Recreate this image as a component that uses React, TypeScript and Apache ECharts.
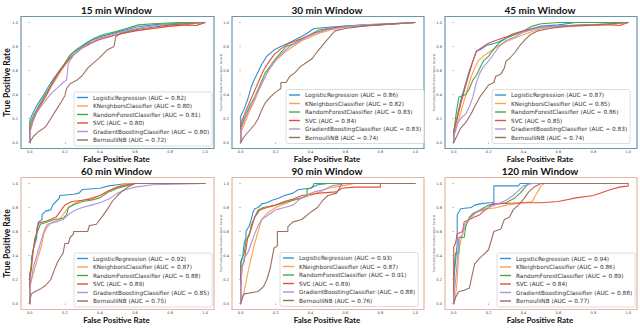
import React, { useEffect, useRef } from 'react';
import * as echarts from 'echarts';

const CLASSIFIERS = ['LogisticRegression', 'KNeighborsClassifier', 'RandomForestClassifier', 'SVC', 'GradientBoostingClassifier', 'BernoulliNB'];
const COLORS = ['#3490d0', '#ffa04a', '#45a845', '#e4503f', '#ad94dc', '#9d6f60'];
const WINDOWS = ['15 min Window', '30 min Window', '45 min Window', '60 min Window', '90 min Window', '120 min Window'];
const TICKS = [0, 0.2, 0.4, 0.6, 0.8, 1.0];

const auc15 = [0.82, 0.80, 0.81, 0.80, 0.80, 0.72];
const auc30 = [0.86, 0.82, 0.83, 0.84, 0.83, 0.74];
const auc45 = [0.87, 0.85, 0.86, 0.85, 0.83, 0.74];
const auc60 = [0.92, 0.87, 0.88, 0.89, 0.85, 0.75];
const auc90 = [0.93, 0.87, 0.91, 0.89, 0.88, 0.76];
const auc120 = [0.94, 0.86, 0.89, 0.84, 0.88, 0.77];

// ROC curves: [FPR, TPR]
const lr15 = [[0,0],[0,0.18],[0.01,0.22],[0.03,0.28],[0.05,0.33],[0.08,0.4],[0.1,0.45],[0.13,0.52],[0.16,0.58],[0.19,0.64],[0.22,0.7],[0.25,0.75],[0.3,0.8],[0.35,0.85],[0.4,0.88],[0.45,0.9],[0.5,0.92],[0.6,0.96],[0.7,0.98],[0.8,0.99],[0.9,0.995],[1,1]];
const kn15 = [[0,0],[0,0.12],[0.02,0.2],[0.04,0.26],[0.06,0.32],[0.09,0.38],[0.12,0.46],[0.15,0.53],[0.18,0.6],[0.21,0.66],[0.24,0.72],[0.28,0.77],[0.33,0.81],[0.38,0.85],[0.45,0.88],[0.5,0.9],[0.6,0.93],[0.7,0.95],[0.8,0.97],[0.9,0.98],[0.95,0.975],[1,1]];
const rf15 = [[0,0],[0,0.15],[0.02,0.22],[0.05,0.3],[0.08,0.38],[0.11,0.45],[0.14,0.52],[0.17,0.6],[0.2,0.66],[0.23,0.73],[0.27,0.78],[0.32,0.83],[0.37,0.87],[0.42,0.9],[0.48,0.92],[0.55,0.95],[0.62,0.98],[0.7,0.99],[0.85,1],[1,1]];
const svc15 = [[0,0],[0,0.1],[0.02,0.19],[0.04,0.26],[0.07,0.33],[0.1,0.41],[0.13,0.5],[0.16,0.57],[0.19,0.63],[0.22,0.69],[0.26,0.74],[0.3,0.79],[0.35,0.83],[0.4,0.86],[0.5,0.9],[0.6,0.93],[0.7,0.95],[0.8,0.97],[0.9,0.98],[0.95,0.975],[1,1]];
const gb15 = [[0,0],[0,0.08],[0.02,0.18],[0.04,0.25],[0.07,0.31],[0.1,0.37],[0.13,0.42],[0.16,0.46],[0.19,0.5],[0.21,0.52],[0.22,0.66],[0.25,0.73],[0.29,0.78],[0.34,0.83],[0.4,0.87],[0.47,0.9],[0.55,0.93],[0.65,0.96],[0.75,0.98],[0.88,0.99],[1,1]];
const nb15 = [[0,0],[0.02,0.05],[0.05,0.09],[0.09,0.13],[0.12,0.2],[0.15,0.27],[0.18,0.34],[0.2,0.39],[0.21,0.45],[0.23,0.49],[0.27,0.52],[0.3,0.56],[0.33,0.62],[0.36,0.66],[0.4,0.71],[0.44,0.77],[0.48,0.8],[0.49,0.88],[0.52,0.91],[0.6,0.94],[0.7,0.96],[0.8,0.98],[0.9,0.99],[1,1]];

const lr30 = [[0,0],[0,0.22],[0.02,0.28],[0.04,0.36],[0.06,0.46],[0.07,0.5],[0.09,0.56],[0.12,0.65],[0.15,0.72],[0.19,0.77],[0.23,0.8],[0.29,0.84],[0.33,0.87],[0.37,0.9],[0.42,0.95],[0.5,0.96],[0.6,0.97],[0.7,0.98],[0.85,0.99],[1,1]];
const kn30 = [[0,0],[0,0.08],[0.02,0.15],[0.05,0.26],[0.08,0.35],[0.1,0.42],[0.13,0.52],[0.16,0.6],[0.2,0.68],[0.25,0.75],[0.3,0.8],[0.35,0.85],[0.4,0.88],[0.45,0.91],[0.52,0.94],[0.6,0.96],[0.7,0.97],[0.8,0.98],[0.9,0.99],[1,1]];
const rf30 = [[0,0],[0,0.12],[0.02,0.2],[0.05,0.3],[0.08,0.38],[0.11,0.48],[0.14,0.58],[0.17,0.64],[0.2,0.7],[0.23,0.75],[0.26,0.8],[0.3,0.82],[0.35,0.86],[0.4,0.9],[0.45,0.94],[0.5,0.95],[0.6,0.97],[0.75,0.98],[0.9,0.99],[1,1]];
const svc30 = [[0,0],[0,0.15],[0.02,0.23],[0.04,0.3],[0.07,0.4],[0.1,0.5],[0.13,0.6],[0.16,0.67],[0.19,0.73],[0.23,0.78],[0.27,0.82],[0.32,0.85],[0.37,0.88],[0.42,0.91],[0.48,0.94],[0.55,0.96],[0.65,0.97],[0.8,0.98],[0.9,0.99],[1,1]];
const gb30 = [[0,0],[0,0.1],[0.02,0.18],[0.05,0.28],[0.08,0.37],[0.11,0.46],[0.14,0.55],[0.17,0.63],[0.2,0.69],[0.24,0.75],[0.28,0.8],[0.33,0.84],[0.38,0.88],[0.43,0.91],[0.5,0.94],[0.58,0.96],[0.7,0.98],[0.85,0.99],[1,1]];
const nb30 = [[0,0],[0.02,0.05],[0.05,0.1],[0.08,0.15],[0.1,0.2],[0.12,0.27],[0.14,0.33],[0.17,0.38],[0.2,0.42],[0.23,0.45],[0.23,0.5],[0.26,0.5],[0.28,0.55],[0.31,0.58],[0.34,0.63],[0.37,0.66],[0.41,0.7],[0.44,0.76],[0.48,0.83],[0.51,0.88],[0.54,0.93],[0.6,0.95],[0.7,0.97],[0.85,0.99],[1,1]];

const lr45 = [[0,0],[0,0.1],[0.02,0.22],[0.04,0.35],[0.07,0.5],[0.09,0.6],[0.11,0.68],[0.13,0.76],[0.16,0.78],[0.19,0.81],[0.22,0.82],[0.26,0.84],[0.3,0.87],[0.35,0.9],[0.4,0.93],[0.45,0.95],[0.5,0.97],[0.6,0.98],[0.7,1],[1,1]];
const kn45 = [[0,0],[0,0.05],[0.02,0.15],[0.04,0.25],[0.06,0.35],[0.08,0.45],[0.1,0.55],[0.12,0.62],[0.14,0.68],[0.17,0.72],[0.2,0.75],[0.25,0.8],[0.3,0.84],[0.35,0.87],[0.4,0.9],[0.5,0.95],[0.6,0.96],[0.7,0.97],[0.85,0.98],[0.95,0.99],[1,1]];
const rf45 = [[0,0],[0,0.05],[0.01,0.2],[0.02,0.3],[0.03,0.38],[0.07,0.4],[0.09,0.45],[0.11,0.52],[0.13,0.56],[0.15,0.62],[0.17,0.68],[0.2,0.72],[0.23,0.78],[0.26,0.83],[0.3,0.87],[0.35,0.9],[0.4,0.93],[0.45,0.97],[0.5,0.99],[0.6,1],[1,1]];
const svc45 = [[0,0],[0,0.08],[0.02,0.2],[0.04,0.32],[0.07,0.48],[0.09,0.58],[0.11,0.68],[0.13,0.76],[0.16,0.79],[0.19,0.82],[0.22,0.84],[0.26,0.86],[0.3,0.88],[0.35,0.91],[0.4,0.93],[0.5,0.96],[0.6,0.97],[0.75,0.98],[0.9,0.98],[0.95,0.975],[1,1]];
const gb45 = [[0,0],[0,0.05],[0.02,0.15],[0.04,0.2],[0.07,0.24],[0.09,0.3],[0.11,0.38],[0.13,0.5],[0.15,0.58],[0.17,0.63],[0.2,0.68],[0.23,0.74],[0.26,0.8],[0.3,0.85],[0.35,0.88],[0.4,0.92],[0.5,0.96],[0.6,0.97],[0.75,0.98],[0.9,0.99],[1,1]];
const nb45 = [[0,0],[0.02,0.06],[0.04,0.12],[0.07,0.17],[0.1,0.24],[0.12,0.3],[0.15,0.38],[0.18,0.44],[0.2,0.48],[0.23,0.5],[0.24,0.55],[0.27,0.57],[0.29,0.62],[0.3,0.68],[0.32,0.7],[0.35,0.75],[0.38,0.81],[0.41,0.86],[0.44,0.9],[0.48,0.93],[0.55,0.95],[0.65,0.97],[0.8,0.98],[1,1]];

const lr60 = [[0,0],[0,0.25],[0.01,0.3],[0.01,0.38],[0.02,0.45],[0.03,0.5],[0.04,0.55],[0.04,0.62],[0.05,0.68],[0.07,0.7],[0.07,0.74],[0.09,0.77],[0.12,0.78],[0.13,0.82],[0.15,0.85],[0.17,0.88],[0.17,0.9],[0.25,0.91],[0.28,0.92],[0.3,0.95],[0.4,0.96],[0.45,0.98],[0.5,0.99],[0.55,1],[1,1]];
const kn60 = [[0,0],[0,0.15],[0.01,0.2],[0.03,0.3],[0.05,0.4],[0.07,0.5],[0.08,0.58],[0.1,0.64],[0.13,0.68],[0.17,0.7],[0.2,0.76],[0.22,0.8],[0.26,0.84],[0.3,0.86],[0.35,0.88],[0.4,0.9],[0.45,0.94],[0.5,0.97],[0.55,1],[1,1]];
const rf60 = [[0,0],[0,0.22],[0.01,0.35],[0.02,0.45],[0.03,0.55],[0.05,0.62],[0.06,0.66],[0.1,0.68],[0.14,0.7],[0.19,0.71],[0.21,0.74],[0.22,0.8],[0.26,0.83],[0.3,0.85],[0.35,0.86],[0.4,0.88],[0.45,0.93],[0.5,0.96],[0.55,0.98],[0.6,1],[1,1]];
const svc60 = [[0,0],[0,0.2],[0.01,0.3],[0.02,0.45],[0.03,0.52],[0.05,0.67],[0.1,0.69],[0.15,0.72],[0.18,0.78],[0.2,0.82],[0.24,0.85],[0.3,0.86],[0.35,0.87],[0.4,0.9],[0.45,0.94],[0.5,0.97],[0.55,0.99],[0.6,1],[1,1]];
const gb60 = [[0,0],[0,0.12],[0.01,0.2],[0.02,0.3],[0.04,0.4],[0.06,0.5],[0.08,0.6],[0.1,0.66],[0.15,0.68],[0.19,0.7],[0.22,0.74],[0.26,0.78],[0.3,0.8],[0.35,0.82],[0.4,0.84],[0.45,0.87],[0.5,0.92],[0.55,0.95],[0.6,0.97],[0.7,0.99],[1,1]];
const nb60 = [[0,0],[0,0.03],[0.01,0.08],[0.03,0.1],[0.06,0.12],[0.09,0.15],[0.12,0.2],[0.14,0.28],[0.16,0.35],[0.19,0.42],[0.2,0.5],[0.22,0.5],[0.23,0.55],[0.25,0.58],[0.25,0.6],[0.33,0.6],[0.34,0.65],[0.38,0.66],[0.41,0.72],[0.44,0.78],[0.47,0.85],[0.5,0.9],[0.53,0.94],[0.57,0.98],[0.6,1],[1,1]];

const lr90 = [[0,0],[0,0.33],[0.01,0.38],[0.02,0.5],[0.03,0.55],[0.03,0.6],[0.05,0.65],[0.06,0.7],[0.07,0.76],[0.08,0.79],[0.1,0.8],[0.12,0.83],[0.15,0.84],[0.18,0.86],[0.22,0.88],[0.25,0.9],[0.3,0.92],[0.33,0.95],[0.4,0.96],[0.44,0.99],[0.5,1],[1,1]];
const kn90 = [[0,0],[0,0.02],[0.02,0.1],[0.04,0.25],[0.06,0.38],[0.08,0.5],[0.1,0.6],[0.12,0.7],[0.15,0.75],[0.2,0.8],[0.25,0.83],[0.3,0.86],[0.35,0.88],[0.4,0.9],[0.45,0.93],[0.5,0.96],[0.58,0.98],[0.65,1],[1,1]];
const rf90 = [[0,0],[0,0.35],[0.02,0.42],[0.03,0.52],[0.05,0.57],[0.06,0.65],[0.08,0.72],[0.1,0.78],[0.13,0.8],[0.2,0.82],[0.25,0.84],[0.3,0.86],[0.35,0.88],[0.38,0.9],[0.38,0.95],[0.41,0.97],[0.42,1],[1,1]];
const svc90 = [[0,0],[0,0.3],[0.02,0.35],[0.03,0.45],[0.04,0.55],[0.06,0.62],[0.08,0.72],[0.11,0.78],[0.15,0.8],[0.2,0.82],[0.25,0.85],[0.3,0.87],[0.35,0.9],[0.45,0.92],[0.55,0.93],[0.58,0.96],[0.65,0.97],[0.8,0.97],[0.8,1],[1,1]];
const gb90 = [[0,0],[0,0.15],[0.01,0.3],[0.02,0.38],[0.04,0.42],[0.06,0.5],[0.08,0.58],[0.1,0.65],[0.12,0.7],[0.16,0.74],[0.2,0.78],[0.25,0.8],[0.3,0.82],[0.33,0.86],[0.37,0.9],[0.42,0.93],[0.48,0.95],[0.52,0.98],[0.6,1],[1,1]];
const nb90 = [[0,0],[0.01,0.05],[0.02,0.08],[0.06,0.09],[0.1,0.1],[0.13,0.14],[0.15,0.2],[0.17,0.3],[0.18,0.38],[0.19,0.46],[0.21,0.48],[0.21,0.6],[0.27,0.6],[0.27,0.64],[0.3,0.68],[0.35,0.7],[0.4,0.76],[0.44,0.8],[0.47,0.86],[0.5,0.9],[0.55,0.92],[0.58,1],[1,1]];

const lr120 = [[0,0],[0,0.2],[0.02,0.5],[0.02,0.74],[0.04,0.79],[0.1,0.8],[0.12,0.82],[0.15,0.83],[0.2,0.84],[0.23,0.84],[0.23,0.98],[0.37,0.98],[0.38,1],[1,1]];
const kn120 = [[0,0],[0.01,0.05],[0.02,0.2],[0.03,0.45],[0.04,0.52],[0.05,0.58],[0.06,0.62],[0.08,0.68],[0.1,0.72],[0.12,0.75],[0.15,0.77],[0.2,0.79],[0.25,0.8],[0.3,0.82],[0.4,0.84],[0.45,0.85],[0.48,0.93],[0.5,0.98],[0.52,1],[1,1]];
const rf120 = [[0,0],[0,0.25],[0.01,0.42],[0.03,0.42],[0.03,0.55],[0.06,0.55],[0.07,0.65],[0.09,0.72],[0.11,0.75],[0.15,0.78],[0.2,0.82],[0.3,0.84],[0.35,0.88],[0.38,0.92],[0.41,0.97],[0.43,1],[1,1]];
const svc120 = [[0,0],[0,0.47],[0.01,0.5],[0.02,0.58],[0.05,0.6],[0.06,0.68],[0.09,0.7],[0.12,0.72],[0.15,0.74],[0.18,0.78],[0.2,0.8],[0.22,0.83],[0.4,0.84],[0.5,0.84],[0.6,0.85],[0.7,0.88],[0.8,0.9],[0.9,0.95],[0.95,0.97],[1,0.98],[1,1]];
const gb120 = [[0,0],[0,0.05],[0.01,0.18],[0.02,0.35],[0.03,0.55],[0.05,0.57],[0.06,0.65],[0.1,0.72],[0.13,0.76],[0.16,0.78],[0.2,0.8],[0.25,0.83],[0.3,0.86],[0.34,0.9],[0.37,0.94],[0.4,0.98],[0.45,1],[1,1]];
const nb120 = [[0,0],[0.01,0.05],[0.03,0.1],[0.06,0.11],[0.09,0.13],[0.1,0.2],[0.12,0.33],[0.15,0.38],[0.18,0.42],[0.2,0.45],[0.22,0.55],[0.23,0.6],[0.27,0.62],[0.29,0.7],[0.32,0.72],[0.34,0.78],[0.37,0.82],[0.4,0.87],[0.43,0.93],[0.46,0.97],[0.5,1],[1,1]];

const PANEL_CURVES = [
  [lr15, kn15, rf15, svc15, gb15, nb15],
  [lr30, kn30, rf30, svc30, gb30, nb30],
  [lr45, kn45, rf45, svc45, gb45, nb45],
  [lr60, kn60, rf60, svc60, gb60, nb60],
  [lr90, kn90, rf90, svc90, gb90, nb90],
  [lr120, kn120, rf120, svc120, gb120, nb120],
];
const PANEL_AUC = [auc15, auc30, auc45, auc60, auc90, auc120];

// layout
const GRID_LEFT = [21, 232, 445];
const GRID_WIDTH = [193, 192, 192];
const GRID_TOP = [16.5, 177.5];
const GRID_HEIGHT = 132;
const FRAME_COLOR = ['#6a97a7', '#e4b6a6'];
const LEGEND_POS = [[74, 92], [286, 89.5], [492, 89.5], [74, 253], [280, 252.5], [497, 253]];

export default function App() {
  const ref = useRef<HTMLDivElement>(null);
  useEffect(() => {
    const chart = echarts.init(ref.current!, null, { renderer: 'svg' });
    const grids: any[] = [];
    const xAxes: any[] = [];
    const yAxes: any[] = [];
    const series: any[] = [];
    const legends: any[] = [];
    const graphics: any[] = [];
    for (let p = 0; p < 6; p++) {
      const row = Math.floor(p / 3);
      const col = p % 3;
      const left = GRID_LEFT[col];
      const top = GRID_TOP[row];
      const width = GRID_WIDTH[col];
      grids.push({
        left, top, width, height: GRID_HEIGHT,
        show: true, borderColor: FRAME_COLOR[row], borderWidth: 1.2, backgroundColor: '#fff',
      });
      const axisCommon = {
        gridIndex: p, type: 'value', min: -0.05, max: 1.05,
        axisLine: { show: false },
        splitLine: { show: false },
        axisTick: { show: true, customValues: TICKS, length: 1.5, lineStyle: { color: '#666', width: 0.5 } },
        axisLabel: { customValues: TICKS, formatter: (v: number) => v.toFixed(1), fontSize: 3.6, color: '#444', fontFamily: 'DejaVu Sans' },
      };
      xAxes.push({ ...axisCommon, axisLabel: { ...axisCommon.axisLabel, margin: 1 } });
      yAxes.push({ ...axisCommon, axisLabel: { ...axisCommon.axisLabel, margin: 3 } });
      const names: string[] = [];
      for (let c = 0; c < 6; c++) {
        const name = `${CLASSIFIERS[c]} (AUC = ${PANEL_AUC[p][c].toFixed(2)})`;
        names.push(name);
        series.push({
          type: 'line', name, xAxisIndex: p, yAxisIndex: p,
          data: PANEL_CURVES[p][c], showSymbol: false, symbol: 'none', silent: true,
          lineStyle: { width: 1.1, color: COLORS[c] }, itemStyle: { color: COLORS[c] },
        });
      }
      legends.push({
        orient: 'vertical', left: LEGEND_POS[p][0], top: LEGEND_POS[p][1], data: names,
        icon: 'rect', itemWidth: 11, itemHeight: 1.4, itemGap: 0.5,
        padding: [1.5, 3, 2, 3], borderColor: '#d4d4d4', borderWidth: 0.8, borderRadius: 2,
        backgroundColor: 'rgba(255,255,255,0.9)', selectedMode: false,
        textStyle: { fontFamily: 'DejaVu Sans', fontSize: 5.75, lineHeight: 8, color: '#333' },
      });
      const cx = left + width / 2 - 1;
      graphics.push({
        type: 'text', x: cx, y: row === 0 ? 10 : 170.5,
        style: { text: WINDOWS[p], textAlign: 'center', textVerticalAlign: 'middle', font: 'bold 10px Lato', fill: '#111' },
      });
      graphics.push({
        type: 'text', x: cx, y: row === 0 ? 158.5 : 320,
        style: { text: 'False Positive Rate', textAlign: 'center', textVerticalAlign: 'middle', font: 'bold 8px Lato', fill: '#111' },
      });
      const cy = top + GRID_HEIGHT / 2;
      if (col === 0) {
        graphics.push({
          type: 'text', x: 7, y: cy, rotation: Math.PI / 2,
          style: { text: 'True Positive Rate', textAlign: 'center', textVerticalAlign: 'middle', font: 'bold 8.5px Lato', fill: '#111' },
        });
      } else {
        graphics.push({
          type: 'text', x: left - 11, y: cy, rotation: Math.PI / 2,
          style: { text: 'True Positive Rate (Positive label: Severe)', textAlign: 'center', textVerticalAlign: 'middle', font: '2.8px "DejaVu Sans"', fill: '#444' },
        });
      }
    }
    chart.setOption({
      animation: false,
      backgroundColor: '#fff',
      grid: grids, xAxis: xAxes, yAxis: yAxes, series, legend: legends, graphic: graphics,
    });
    return () => chart.dispose();
  }, []);
  return <div ref={ref} style={{ position: 'absolute', left: 0, top: 0, width: 640, height: 329 }} />;
}
